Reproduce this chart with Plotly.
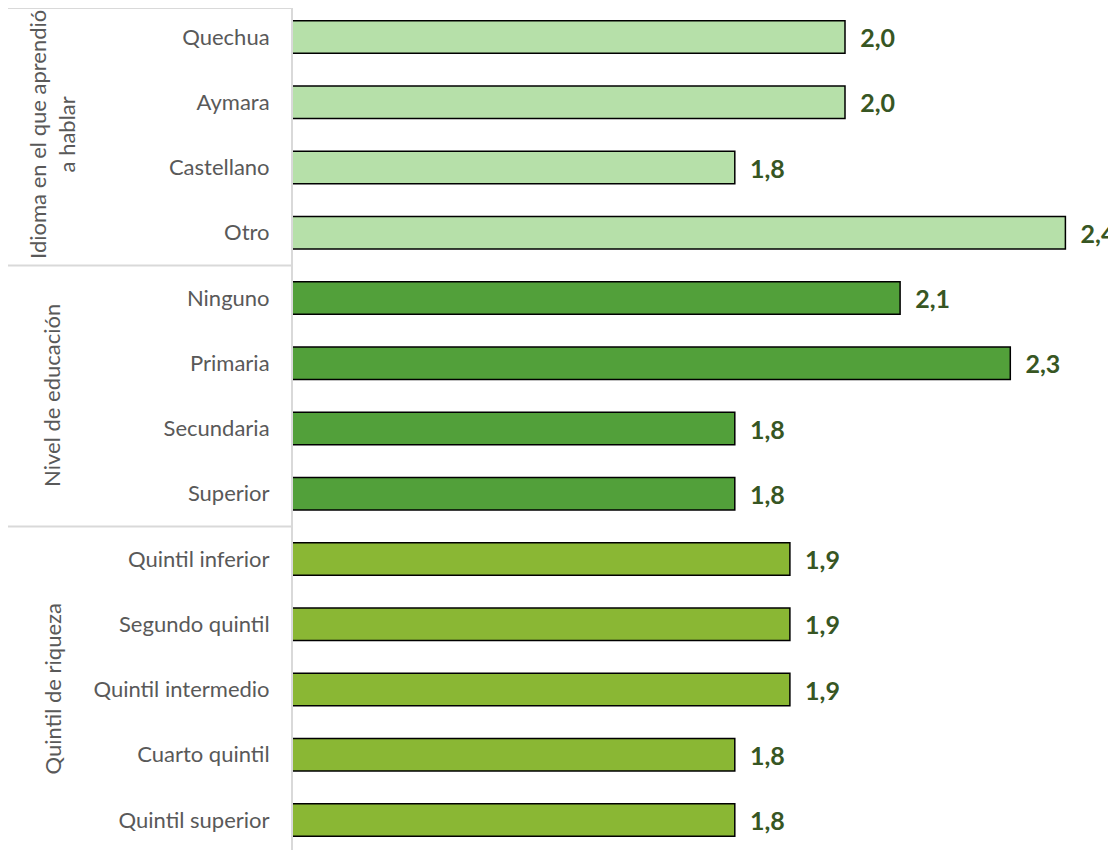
import plotly.graph_objects as go

categories = ["Quechua", "Aymara", "Castellano", "Otro",
              "Ninguno", "Primaria", "Secundaria", "Superior",
              "Quintil inferior", "Segundo quintil", "Quintil intermedio",
              "Cuarto quintil", "Quintil superior"]
values = [2.0, 2.0, 1.8, 2.4,
          2.1, 2.3, 1.8, 1.8,
          1.9, 1.9, 1.9, 1.8, 1.8]
group_names = ["Idioma en el que aprendió<br>a hablar", "Nivel de educación", "Quintil de riqueza"]
group_sizes = [4, 4, 5]
group_colors = ["#B6E0A9", "#52A03A", "#8AB734"]

colors = []
for c, n in zip(group_colors, group_sizes):
    colors += [c] * n

# page has an 8px body margin
OFF = 8
W, H = 1116 - OFF, 850 - OFF
ML = 293 - OFF
plot_w = W - ML
PX_PER_UNIT = 551
BAND = 65.25
FIRST_C = 37

y_top = (OFF - FIRST_C) / BAND
y_bot = (OFF + H - FIRST_C) / BAND

fig = go.Figure(go.Bar(
    y=list(range(len(categories))), x=values, orientation="h", base=0,
    marker=dict(color=colors, line=dict(color="#000000", width=1.5)),
    width=0.5,
    texttemplate="\u00a0\u00a0%{x:.1f}", textposition="outside",
    textfont=dict(family="Lato", size=25, color="#375623", weight="bold"),
    cliponaxis=False,
))

fig.update_layout(
    width=W, height=H,
    margin=dict(l=ML, r=0, t=0, b=0, autoexpand=False),
    paper_bgcolor="white", plot_bgcolor="white",
    separators=",.",
    showlegend=False,
    font=dict(family="Lato", color="#595959"),
)
fig.update_xaxes(range=[1.0 - 1.0 / PX_PER_UNIT, 1.0 + (plot_w - 1) / PX_PER_UNIT],
                 visible=False, showgrid=False)
fig.update_yaxes(range=[y_bot, y_top], showgrid=False, showline=True,
                 linecolor="#D9D9D9", linewidth=2, automargin=False,
                 tickmode="array", tickvals=list(range(len(categories))),
                 ticktext=categories,
                 tickfont=dict(family="Lato", size=22, color="#595959"),
                 ticks="", ticklabelstandoff=17)

shapes = []
annotations = []
x_left = -ML / plot_w
shapes.append(dict(type="line", xref="paper", yref="paper", x0=x_left, x1=0,
                   y0=1, y1=1, line=dict(color="#D9D9D9", width=2)))
start = 0
for name, n in zip(group_names, group_sizes):
    end = start + n
    if end < len(categories):
        shapes.append(dict(type="line", xref="paper", yref="y", x0=x_left, x1=0,
                           y0=end - 0.5, y1=end - 0.5,
                           line=dict(color="#D9D9D9", width=2)))
    annotations.append(dict(xref="paper", yref="y", x=(52 - OFF - ML) / plot_w,
                            xanchor="center", yanchor="middle",
                            y=(start + end - 1) / 2, text=name, textangle=-90,
                            showarrow=False, align="center",
                            font=dict(family="Lato", size=22, color="#595959")))
    start = end

fig.update_layout(shapes=shapes, annotations=annotations)
fig.write_html("out.html")
